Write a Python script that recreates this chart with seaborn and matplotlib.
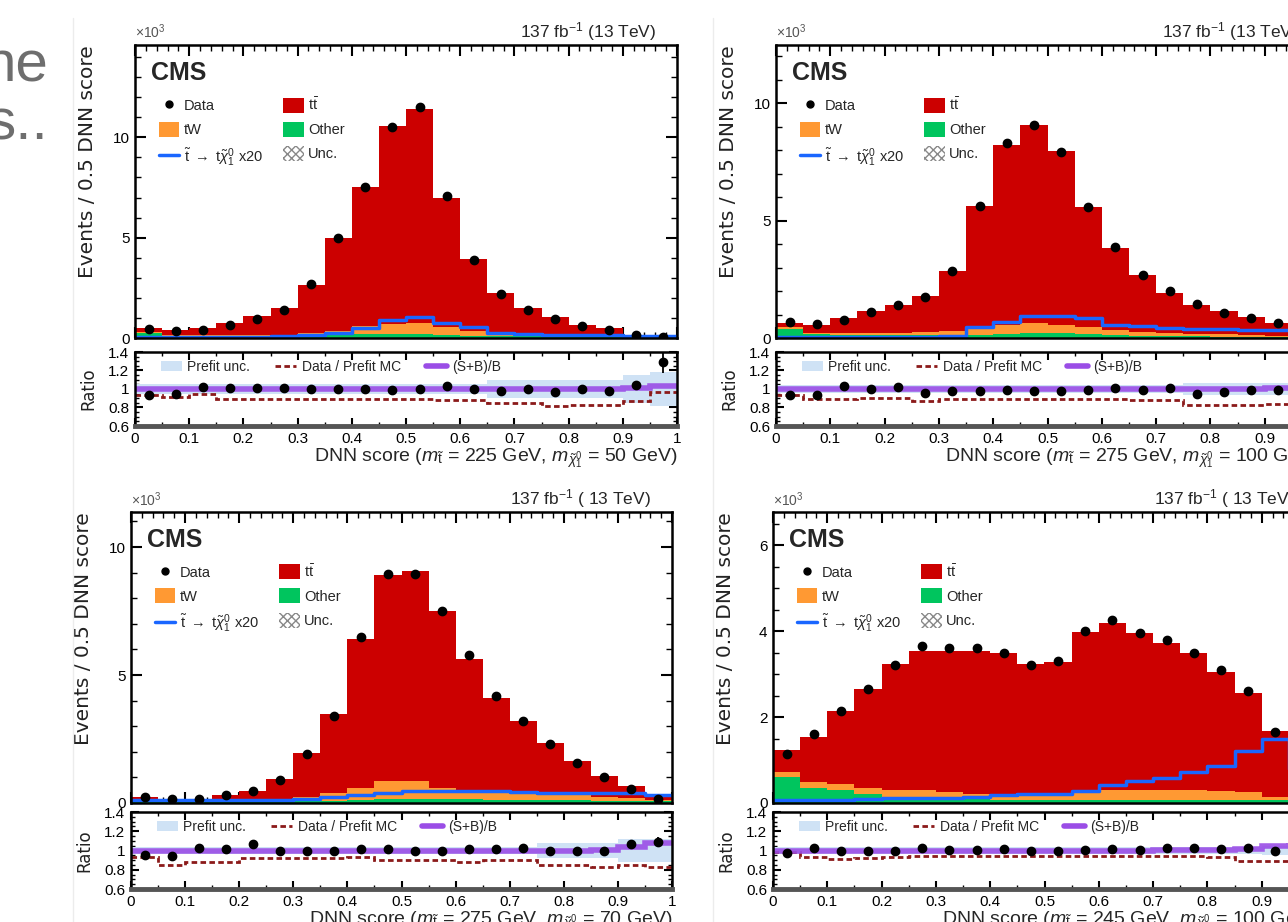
import numpy as np
import pandas as pd
import matplotlib.pyplot as plt
import seaborn as sns
from matplotlib.patches import Patch
from matplotlib.lines import Line2D
from matplotlib.ticker import MultipleLocator

# 20 bins of width 0.05 in DNN score
edges = np.linspace(0, 1, 21)
centers = edges[:-1] + 0.025

# ---- panel a: m_stop = 225 GeV, m_LSP = 50 GeV (x10^3 events) ----
tt_a = [0.20, 0.25, 0.35, 0.60, 0.93, 1.33, 2.41, 4.65, 6.90, 9.85, 10.68, 6.43, 3.62, 2.04, 1.35, 0.91, 0.56, 0.42, 0.12, 0.05]
tw_a = [0.05, 0.05, 0.05, 0.05, 0.05, 0.07, 0.13, 0.20, 0.40, 0.50, 0.55, 0.40, 0.21, 0.10, 0.07, 0.06, 0.05, 0.03, 0.02, 0.01]
other_a = [0.25, 0.10, 0.10, 0.10, 0.10, 0.10, 0.12, 0.15, 0.20, 0.20, 0.20, 0.15, 0.12, 0.10, 0.08, 0.06, 0.05, 0.05, 0.03, 0.02]
sig_a = [0.05, 0.05, 0.05, 0.05, 0.05, 0.08, 0.15, 0.25, 0.50, 0.90, 1.03, 0.75, 0.53, 0.25, 0.18, 0.15, 0.15, 0.13, 0.12, 0.10]
data_a = [0.45, 0.35, 0.40, 0.65, 0.95, 1.40, 2.70, 5.00, 7.50, 10.50, 11.50, 7.10, 3.90, 2.20, 1.40, 0.95, 0.60, 0.40, 0.15, 0.05]
rdata_a = [0.93, 0.95, 1.02, 1.01, 1.01, 1.01, 1.00, 1.00, 1.00, 0.99, 1.00, 1.03, 1.00, 0.98, 1.00, 0.97, 1.00, 0.98, 1.04, 1.29]
rerr_a = [0.03, 0.03, 0.03, 0.02, 0.02, 0.02, 0.01, 0.01, 0.01, 0.01, 0.01, 0.01, 0.01, 0.02, 0.02, 0.03, 0.03, 0.04, 0.05, 0.12]
rpre_a = [0.93, 0.91, 0.95, 0.89, 0.89, 0.89, 0.89, 0.89, 0.89, 0.89, 0.89, 0.88, 0.88, 0.85, 0.85, 0.82, 0.83, 0.83, 0.87, 0.97]
rsb_a = [1.00, 1.00, 1.00, 1.00, 1.00, 1.00, 1.00, 1.00, 1.00, 1.00, 1.00, 1.00, 1.00, 1.00, 1.00, 1.00, 1.00, 1.00, 1.01, 1.03]
runc_a = [0.05, 0.05, 0.05, 0.05, 0.05, 0.05, 0.05, 0.05, 0.05, 0.05, 0.05, 0.05, 0.05, 0.10, 0.10, 0.10, 0.10, 0.10, 0.15, 0.18]

# ---- panel b: m_stop = 275 GeV, m_LSP = 100 GeV ----
tt_b = [0.19, 0.35, 0.65, 0.91, 1.20, 1.52, 2.57, 5.20, 7.68, 8.43, 7.39, 5.12, 3.51, 2.42, 1.71, 1.24, 0.98, 0.76, 0.54, 0.37]
tw_b = [0.05, 0.07, 0.08, 0.10, 0.10, 0.13, 0.18, 0.28, 0.40, 0.42, 0.35, 0.30, 0.20, 0.15, 0.12, 0.10, 0.09, 0.07, 0.05, 0.04]
other_b = [0.40, 0.15, 0.12, 0.12, 0.12, 0.12, 0.12, 0.12, 0.15, 0.20, 0.20, 0.15, 0.12, 0.10, 0.08, 0.08, 0.06, 0.05, 0.05, 0.04]
sig_b = [0.05, 0.05, 0.05, 0.05, 0.05, 0.05, 0.08, 0.45, 0.70, 0.92, 0.92, 0.85, 0.57, 0.50, 0.43, 0.40, 0.38, 0.36, 0.36, 0.35]
data_b = [0.67, 0.60, 0.78, 1.10, 1.39, 1.73, 2.87, 5.60, 8.30, 9.08, 7.91, 5.56, 3.86, 2.70, 1.99, 1.45, 1.06, 0.85, 0.64, 0.45]
rdata_b = [0.94, 0.94, 1.03, 1.00, 1.02, 0.96, 0.98, 0.98, 0.99, 0.98, 0.98, 0.99, 1.01, 0.99, 1.01, 0.95, 0.97, 0.99, 0.99, 1.00]
rerr_b = [0.02, 0.02, 0.02, 0.02, 0.02, 0.01, 0.01, 0.01, 0.01, 0.01, 0.01, 0.01, 0.01, 0.01, 0.02, 0.02, 0.02, 0.03, 0.03, 0.04]
rpre_b = [0.94, 0.89, 0.89, 0.90, 0.90, 0.87, 0.89, 0.89, 0.89, 0.89, 0.89, 0.89, 0.89, 0.88, 0.88, 0.83, 0.83, 0.83, 0.84, 0.84]
rsb_b = [1.00, 1.00, 1.00, 1.00, 1.00, 1.00, 1.00, 1.00, 1.00, 1.00, 1.00, 1.00, 1.00, 1.00, 1.00, 1.00, 1.00, 1.00, 1.01, 1.02]
runc_b = [0.04, 0.04, 0.04, 0.04, 0.04, 0.04, 0.04, 0.04, 0.04, 0.04, 0.04, 0.04, 0.04, 0.04, 0.04, 0.07, 0.07, 0.07, 0.07, 0.08]

# ---- panel c: m_stop = 275 GeV, m_LSP = 70 GeV ----
tt_c = [0.10, 0.06, 0.06, 0.20, 0.36, 0.77, 1.71, 3.06, 5.80, 8.05, 8.21, 6.90, 5.12, 3.67, 2.80, 2.00, 1.33, 0.80, 0.45, 0.16]
tw_c = [0.02, 0.02, 0.02, 0.05, 0.07, 0.10, 0.19, 0.32, 0.50, 0.70, 0.70, 0.45, 0.35, 0.33, 0.28, 0.25, 0.20, 0.17, 0.12, 0.04]
other_c = [0.10, 0.05, 0.05, 0.05, 0.05, 0.05, 0.06, 0.08, 0.10, 0.15, 0.15, 0.15, 0.15, 0.12, 0.12, 0.10, 0.10, 0.08, 0.08, 0.06]
sig_c = [0.10, 0.10, 0.10, 0.10, 0.10, 0.12, 0.15, 0.25, 0.30, 0.40, 0.45, 0.45, 0.45, 0.45, 0.42, 0.40, 0.40, 0.40, 0.38, 0.33]
data_c = [0.25, 0.15, 0.15, 0.30, 0.45, 0.90, 1.90, 3.40, 6.50, 8.95, 8.95, 7.50, 5.80, 4.20, 3.20, 2.30, 1.55, 1.00, 0.55, 0.15]
rdata_c = [0.95, 0.94, 1.03, 1.02, 1.07, 0.99, 0.99, 1.00, 1.02, 1.02, 1.00, 0.99, 1.02, 1.02, 1.03, 0.99, 0.99, 1.00, 1.07, 1.09]
rerr_c = [0.04, 0.04, 0.03, 0.03, 0.03, 0.02, 0.02, 0.01, 0.01, 0.01, 0.01, 0.01, 0.01, 0.01, 0.01, 0.02, 0.02, 0.02, 0.03, 0.05]
rpre_c = [0.93, 0.85, 0.88, 0.88, 0.92, 0.92, 0.92, 0.92, 0.93, 0.90, 0.90, 0.90, 0.88, 0.90, 0.90, 0.85, 0.85, 0.83, 0.85, 0.83]
rsb_c = [1.00, 1.00, 1.00, 1.00, 1.00, 1.00, 1.00, 1.00, 1.00, 1.00, 1.00, 1.00, 1.00, 1.00, 1.00, 1.00, 1.00, 1.01, 1.04, 1.08]
runc_c = [0.04, 0.04, 0.04, 0.04, 0.04, 0.04, 0.04, 0.04, 0.04, 0.04, 0.04, 0.04, 0.04, 0.04, 0.04, 0.08, 0.08, 0.08, 0.12, 0.12]

# ---- panel d: m_stop = 245 GeV, m_LSP = 100 GeV ----
tt_d = [0.51, 1.04, 1.70, 2.30, 2.93, 3.24, 3.29, 3.34, 3.30, 3.03, 3.05, 3.70, 3.89, 3.66, 3.43, 3.18, 2.77, 2.31, 1.52, 0.80]
tw_d = [0.12, 0.15, 0.15, 0.15, 0.15, 0.18, 0.15, 0.10, 0.12, 0.12, 0.14, 0.20, 0.22, 0.22, 0.22, 0.22, 0.20, 0.17, 0.09, 0.05]
other_d = [0.60, 0.35, 0.30, 0.20, 0.15, 0.12, 0.10, 0.10, 0.08, 0.08, 0.08, 0.08, 0.08, 0.08, 0.08, 0.08, 0.08, 0.08, 0.06, 0.05]
sig_d = [0.08, 0.08, 0.08, 0.10, 0.12, 0.12, 0.12, 0.15, 0.18, 0.20, 0.22, 0.27, 0.41, 0.52, 0.59, 0.72, 0.85, 1.21, 1.50, 0.80]
data_d = [1.15, 1.60, 2.15, 2.65, 3.20, 3.65, 3.60, 3.60, 3.50, 3.20, 3.30, 4.00, 4.25, 3.95, 3.80, 3.50, 3.10, 2.60, 1.65, 0.90]
rdata_d = [0.97, 1.03, 0.99, 1.00, 0.99, 1.03, 1.01, 1.01, 1.02, 0.99, 1.00, 1.01, 1.02, 1.01, 1.03, 1.03, 1.02, 1.03, 1.00, 1.00]
rerr_d = [0.02, 0.02, 0.02, 0.01, 0.01, 0.01, 0.01, 0.01, 0.01, 0.01, 0.01, 0.01, 0.01, 0.01, 0.01, 0.01, 0.01, 0.01, 0.02, 0.03]
rpre_d = [0.98, 0.93, 0.91, 0.92, 0.93, 0.94, 0.94, 0.94, 0.94, 0.94, 0.94, 0.94, 0.94, 0.94, 0.94, 0.94, 0.93, 0.89, 0.89, 0.89]
rsb_d = [1.00, 1.00, 1.00, 1.00, 1.00, 1.00, 1.00, 1.00, 1.00, 1.00, 1.00, 1.00, 1.00, 1.00, 1.01, 1.01, 1.01, 1.02, 1.05, 1.08]
runc_d = [0.04, 0.04, 0.04, 0.04, 0.04, 0.04, 0.04, 0.04, 0.04, 0.04, 0.04, 0.04, 0.04, 0.04, 0.04, 0.04, 0.04, 0.04, 0.05, 0.05]

RED = "#cc0000"
ORANGE = "#ff9933"
GREEN = "#00c55e"
BLUE = "#1a66ff"
PURPLE = "#9a4de6"
DARKRED = "#8b1a1a"
LIGHTBLUE = "#cfe2f5"

sns.set_theme(style="ticks")
plt.rcParams['font.family'] = ['Liberation Sans', 'DejaVu Sans']
plt.rcParams['mathtext.fontset'] = 'custom'
plt.rcParams['mathtext.rm'] = 'Liberation Sans'
plt.rcParams['mathtext.it'] = 'Liberation Sans:italic'

fig = plt.figure(figsize=(12.88, 9.22), dpi=100)
W, H = 1288.0, 922.0


def rect(left, top, width, height):
    return [left / W, 1 - (top + height) / H, width / W, height / H]


panels = [
    dict(tt=tt_a, tw=tw_a, other=other_a, sig=sig_a, data=data_a, rdata=rdata_a, rerr=rerr_a,
         rpre=rpre_a, rsb=rsb_a, runc=runc_a, ymax=14.6, major=5, minor=1, mst=225, mlsp=50,
         lumi=r"137 fb$^{-1}$ (13 TeV)", main=rect(135, 45, 542, 293), ratio=rect(135, 352, 542, 74)),
    dict(tt=tt_b, tw=tw_b, other=other_b, sig=sig_b, data=data_b, rdata=rdata_b, rerr=rerr_b,
         rpre=rpre_b, rsb=rsb_b, runc=runc_b, ymax=12.47, major=5, minor=1, mst=275, mlsp=100,
         lumi=r"137 fb$^{-1}$ (13 TeV)", main=rect(776, 45, 543, 293), ratio=rect(776, 352, 543, 74)),
    dict(tt=tt_c, tw=tw_c, other=other_c, sig=sig_c, data=data_c, rdata=rdata_c, rerr=rerr_c,
         rpre=rpre_c, rsb=rsb_c, runc=runc_c, ymax=11.37, major=5, minor=1, mst=275, mlsp=70,
         lumi=r"137 fb$^{-1}$ ( 13 TeV)", main=rect(131, 512, 541, 291), ratio=rect(131, 812, 541, 77)),
    dict(tt=tt_d, tw=tw_d, other=other_d, sig=sig_d, data=data_d, rdata=rdata_d, rerr=rerr_d,
         rpre=rpre_d, rsb=rsb_d, runc=runc_d, ymax=6.77, major=2, minor=0.5, mst=245, mlsp=100,
         lumi=r"137 fb$^{-1}$ ( 13 TeV)", main=rect(773, 512, 543, 291), ratio=rect(773, 812, 543, 77)),
]


def style_axes(ax, xminor=0.02):
    for s in ax.spines.values():
        s.set_linewidth(1.8)
        s.set_color("black")
    ax.tick_params(which="both", direction="in", top=True, right=True, colors="black",
                   labelsize=11, pad=4)
    ax.tick_params(which="major", length=8, width=1.5)
    ax.tick_params(which="minor", length=4, width=1.0)
    ax.xaxis.set_major_locator(MultipleLocator(0.1))
    ax.xaxis.set_minor_locator(MultipleLocator(xminor))
    ax.set_xlim(0, 1)


bin_list = list(edges)

for p in panels:
    ax = fig.add_axes(p["main"])
    rax = fig.add_axes(p["ratio"])

    other = np.array(p["other"])
    tw = np.array(p["tw"])
    tt = np.array(p["tt"])
    # stacked backgrounds: draw cumulative totals back to front
    for h, c in [(other + tw + tt, RED), (other + tw, ORANGE), (other, GREEN)]:
        df = pd.DataFrame({"score": centers, "w": h})
        sns.histplot(data=df, x="score", weights="w", bins=bin_list, element="step", fill=True,
                     color=c, alpha=1, linewidth=0, ax=ax)
    dfs = pd.DataFrame({"score": centers, "w": p["sig"]})
    sns.histplot(data=dfs, x="score", weights="w", bins=bin_list, element="step", fill=False,
                 color=BLUE, linewidth=2.5, ax=ax)
    data = np.array(p["data"])
    ax.errorbar(centers, data, yerr=data * np.array(p["rerr"]), fmt="o", color="black",
                ms=6, elinewidth=1.3, capsize=0, zorder=5)

    style_axes(ax)
    ax.set_ylim(0, p["ymax"])
    ax.yaxis.set_major_locator(MultipleLocator(p["major"]))
    ax.yaxis.set_minor_locator(MultipleLocator(p["minor"]))
    ax.yaxis.set_major_formatter(plt.FuncFormatter(lambda v, pos: f"{v:g}"))
    ax.tick_params(labelbottom=False)
    ax.set_xlabel("")
    ax.set_ylabel("Events / 0.5 DNN score", fontsize=14.5, loc="top",
                  family=["DejaVu Sans"], color="#222222")
    ax.yaxis.set_label_coords(-0.07, 1.0)

    ax.text(0.0, 1.012, r"$\times10^{3}$", transform=ax.transAxes, fontsize=10, color="#555555",
            ha="left", va="bottom")
    ax.text(0.962, 1.045, p["lumi"], transform=ax.transAxes, fontsize=12.5, ha="right", va="center")
    ax.text(0.03, 0.905, "CMS", transform=ax.transAxes, fontsize=18, fontweight="bold",
            ha="left", va="center")

    handles = [
        Line2D([], [], marker="o", color="black", ls="none", ms=5),
        Patch(facecolor=ORANGE, edgecolor="none"),
        Line2D([], [], color=BLUE, lw=2.5),
        Patch(facecolor=RED, edgecolor="none"),
        Patch(facecolor=GREEN, edgecolor="none"),
        Patch(facecolor="white", edgecolor="#888888", hatch="xxxx", lw=0),
    ]
    labels = ["Data", "tW", r"$\tilde{\rm t}$ $\rightarrow$ t$\tilde{\chi}^{0}_{1}$ x20",
              r"t$\bar{\rm t}$", "Other", "Unc."]
    ax.legend(handles, labels, loc="upper left", bbox_to_anchor=(0.02, 0.87), ncol=2,
              frameon=False, fontsize=10.5, handlelength=1.4, handleheight=1.2,
              labelspacing=0.6, handletextpad=0.3, columnspacing=1.4)

    # ratio panel
    runc = np.array(p["runc"])
    rax.stairs(1 + runc, edges, baseline=1 - runc, fill=True, color=LIGHTBLUE, lw=0)
    rax.stairs(p["rpre"], edges, baseline=None, color=DARKRED, lw=2, ls=(0, (2, 1.2)))
    rax.stairs(p["rsb"], edges, baseline=None, color=PURPLE, lw=4, alpha=0.9)
    rax.errorbar(centers, p["rdata"], yerr=p["rerr"], fmt="o", color="black", ms=6,
                 elinewidth=1.3, capsize=0, zorder=5)
    style_axes(rax, xminor=0.05)
    rax.spines["bottom"].set_linewidth(3.5)
    rax.spines["bottom"].set_color("#555555")
    rax.set_ylim(0.6, 1.4)
    rax.yaxis.set_major_locator(MultipleLocator(0.2))
    rax.yaxis.set_minor_locator(MultipleLocator(0.05))
    rax.yaxis.set_major_formatter(plt.FuncFormatter(lambda v, pos: f"{v:g}"))
    rax.xaxis.set_major_formatter(plt.FuncFormatter(lambda v, pos: f"{v:g}"))
    rax.tick_params(which="major", length=6)
    rax.tick_params(which="minor", length=3)
    rax.set_ylabel("Ratio", fontsize=12, family=["DejaVu Sans"], color="#222222")
    rax.yaxis.set_label_coords(-0.07, 0.5)
    rax.set_xlabel(r"DNN score ($m_{\tilde{\rm t}}$ = %d GeV, $m_{\tilde{\chi}^{0}_{1}}$ = %d GeV)"
                   % (p["mst"], p["mlsp"]), fontsize=14, loc="right", labelpad=1)

    rhandles = [Patch(facecolor=LIGHTBLUE, edgecolor="none"),
                Line2D([], [], color=DARKRED, lw=2, ls=(0, (2, 1.2))),
                Line2D([], [], color=PURPLE, lw=4)]
    rax.legend(rhandles, ["Prefit unc.", "Data / Prefit MC", "(S+B)/B"], loc="upper left",
               bbox_to_anchor=(0.025, 1.06), ncol=3, frameon=False, fontsize=10,
               handlelength=1.5, handletextpad=0.4, columnspacing=1.8)

# faint borders of the pasted figures and the slide text on the left
for x in (73, 713):
    fig.add_artist(Line2D([x / W, x / W], [0, 1 - 18 / H], color="#ececec", lw=1))
fig.text(48 / W, 1 - 82 / H, "ne", fontsize=42, color="#6e6e6e", ha="right", va="baseline")
fig.text(48 / W, 1 - 140 / H, "s..", fontsize=42, color="#6e6e6e", ha="right", va="baseline")

fig.savefig("out.png", dpi=100)
